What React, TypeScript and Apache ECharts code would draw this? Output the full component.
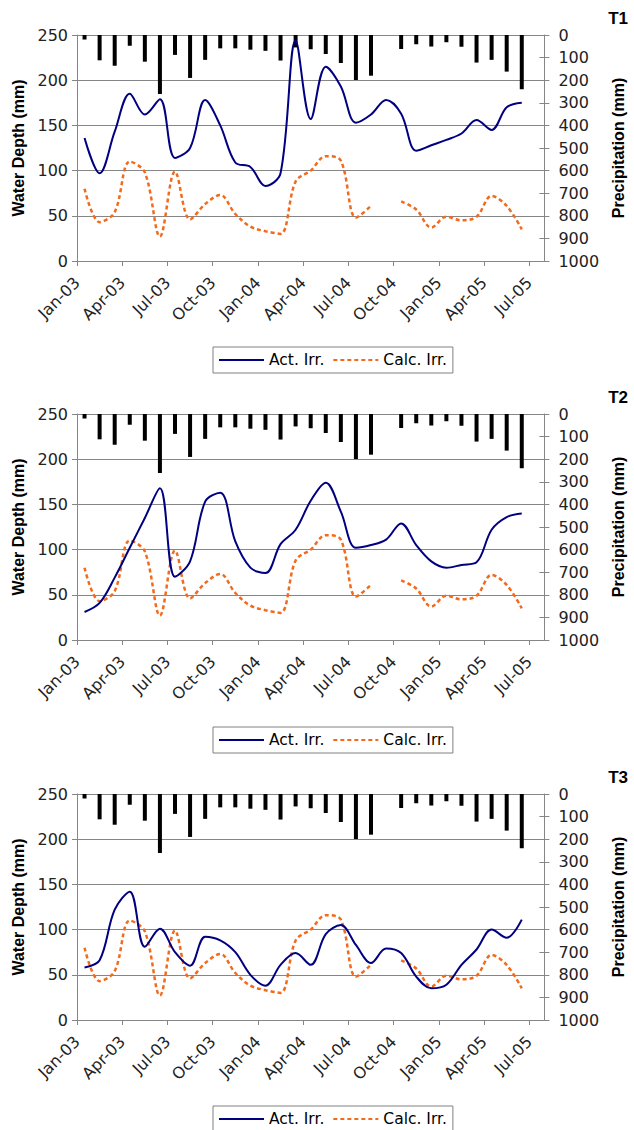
import React, { useEffect, useRef } from 'react';
import * as echarts from 'echarts';

// ---- data ----
const tickLabels = ['Jan-03', 'Apr-03', 'Jul-03', 'Oct-03', 'Jan-04', 'Apr-04', 'Jul-04', 'Oct-04', 'Jan-05', 'Apr-05', 'Jul-05'];
const tickMonths = [0, 3, 6, 9, 12, 15, 18, 21, 24, 27, 30];

// monthly precipitation (mm), Jan-03 .. Jun-05
const precipitation = [20, 112, 136, 48, 118, 261, 88, 190, 110, 59, 59, 65, 70, 113, 55, 63, 84, 124, 199, 180, null, 62, 41, 51, 32, 52, 122, 110, 162, 240];

// calculated irrigation (mm), same for all plots
const calcIrr = [80, 43, 54, 110, 98, 27, 99, 46, 63, 73, 52, 38, 33, 30, 88, 100, 116, 111, 48, 61, null, 66, 57, 37, 49, 45, 49, 72, 61, 35];

// actual irrigation (mm)
const actIrrT1 = [136, 97, 143, 185, 162, 179, 114, 125, 178, 150, 109, 104, 83, 97, 244, 157, 215, 193, 153, 162, 178, 163, 122, 128, 134, 141, 156, 145, 170, 175];
const actIrrT2 = [31, 41, 69, 102, 135, 168, 70, 87, 153, 163, 109, 80, 74, 106, 122, 154, 174, 142, 102, 105, 111, 129, 105, 87, 80, 83, 86, 122, 136, 140];
const actIrrT3 = [58, 66, 122, 142, 81, 101, 75, 60, 92, 88, 75, 50, 38, 61, 74, 61, 95, 105, 83, 63, 79, 74, 48, 35, 39, 61, 78, 100, 91, 111];

const panelLabels = ['T1', 'T2', 'T3'];
const seriesNames = ['Act. Irr.', 'Calc. Irr.'];
const panelAct = [actIrrT1, actIrrT2, actIrrT3];

// ---- layout ----
const W = 634;
const H = 1130;
const panelTops = [35, 414, 794];
const legendTops = [347, 727, 1106];
const plotH = 226;
const plotLeft = 77;
const plotRight = 86;

const GRAY = '#868686';
const TICK_FONT = 'DejaVu Sans';
const NAME_FONT = 'Liberation Sans';
const NAVY = '#000080';
const ORANGE = '#F26B1D';
const SMOOTH = 0.35;

const toPts = (arr: (number | null)[]) => arr.map((v, i) => [i + 0.5, v]);

function buildOption() {
  const grid: any[] = [];
  const xAxis: any[] = [];
  const yAxis: any[] = [];
  const series: any[] = [];
  const legend: any[] = [];
  const graphic: any[] = [];

  panelTops.forEach((top, g) => {
    grid.push({ left: plotLeft, right: plotRight, top, height: plotH, containLabel: false });
    xAxis.push({
      type: 'value',
      gridIndex: g,
      min: 0,
      max: 31,
      interval: 3,
      axisLine: { show: true, onZero: false, lineStyle: { color: GRAY, width: 1 } },
      axisTick: { show: true, length: 5, customValues: tickMonths, lineStyle: { color: GRAY } },
      axisLabel: {
        customValues: tickMonths,
        rotate: 45,
        margin: 19,
        formatter: (v: number) => tickLabels[tickMonths.indexOf(Math.round(v))] ?? '',
        fontFamily: TICK_FONT,
        fontSize: 16,
        color: '#222',
      },
      splitLine: { show: false },
    });
    // left: water depth
    yAxis.push({
      type: 'value',
      gridIndex: g,
      position: 'left',
      min: 0,
      max: 250,
      interval: 50,
      name: 'Water Depth (mm)',
      nameLocation: 'middle',
      nameGap: 47,
      nameTextStyle: { fontFamily: NAME_FONT, fontWeight: 'bold', fontSize: 16, color: '#000' },
      axisLine: { show: true, lineStyle: { color: GRAY } },
      axisTick: { show: true, length: 5, lineStyle: { color: GRAY } },
      axisLabel: { margin: 9, fontFamily: TICK_FONT, fontSize: 16, color: '#222' },
      splitLine: { show: true, lineStyle: { color: GRAY, width: 1 } },
    });
    // right: precipitation (inverted)
    yAxis.push({
      type: 'value',
      gridIndex: g,
      position: 'right',
      inverse: true,
      min: 0,
      max: 1000,
      interval: 100,
      name: 'Precipitation (mm)',
      nameLocation: 'middle',
      nameGap: 52,
      nameTextStyle: { fontFamily: NAME_FONT, fontWeight: 'bold', fontSize: 16, color: '#000' },
      axisLine: { show: true, lineStyle: { color: GRAY } },
      axisTick: { show: true, length: 5, lineStyle: { color: GRAY } },
      axisLabel: { margin: 14, formatter: (v: number) => String(v), fontFamily: TICK_FONT, fontSize: 16, color: '#222' },
      splitLine: { show: false },
    });
    // inner half of the crossing ticks on the right axis
    yAxis.push({
      type: 'value',
      gridIndex: g,
      position: 'right',
      inverse: true,
      min: 0,
      max: 1000,
      interval: 100,
      axisLine: { show: false },
      axisTick: { show: true, inside: true, length: 5, lineStyle: { color: GRAY } },
      axisLabel: { show: false },
      splitLine: { show: false },
    });

    series.push({
      type: 'bar',
      name: 'Precipitation',
      xAxisIndex: g,
      yAxisIndex: g * 3 + 1,
      data: toPts(precipitation),
      barWidth: 4,
      itemStyle: { color: '#000' },
      z: 1,
    });
    series.push({
      type: 'line',
      name: seriesNames[0],
      xAxisIndex: g,
      yAxisIndex: g * 3,
      data: toPts(panelAct[g]),
      smooth: SMOOTH,
      symbol: 'none',
      lineStyle: { color: NAVY, width: 2 },
      itemStyle: { color: NAVY },
      z: 3,
    });
    series.push({
      type: 'line',
      name: seriesNames[1],
      xAxisIndex: g,
      yAxisIndex: g * 3,
      data: toPts(calcIrr),
      smooth: SMOOTH,
      symbol: 'none',
      connectNulls: false,
      lineStyle: { color: ORANGE, width: 2.5, type: [4, 3] },
      itemStyle: { color: ORANGE },
      z: 2,
    });

    legend.push({
      data: seriesNames,
      left: 213,
      top: legendTops[g],
      orient: 'horizontal',
      itemWidth: 45,
      itemHeight: 12,
      itemGap: 8,
      padding: [5, 6, 5, 5],
      borderColor: '#808080',
      borderWidth: 1,
      selectedMode: false,
      itemStyle: { opacity: 0 },
      textStyle: { fontFamily: TICK_FONT, fontSize: 15.5, color: '#000' },
    });

    graphic.push({
      type: 'text',
      right: 6,
      top: top - 25,
      style: { text: panelLabels[g], font: 'bold 17px "Liberation Sans"', fill: '#000' },
    });
  });

  return {
    animation: false,
    backgroundColor: '#fff',
    grid,
    xAxis,
    yAxis,
    series,
    legend,
    graphic,
  };
}

export default function App() {
  const ref = useRef<HTMLDivElement>(null);
  useEffect(() => {
    document.body.style.margin = '0';
    if (!ref.current) return;
    const chart = echarts.init(ref.current, undefined, { renderer: 'svg' });
    chart.setOption(buildOption() as any);
    return () => chart.dispose();
  }, []);
  return <div ref={ref} style={{ width: W, height: H }} />;
}
